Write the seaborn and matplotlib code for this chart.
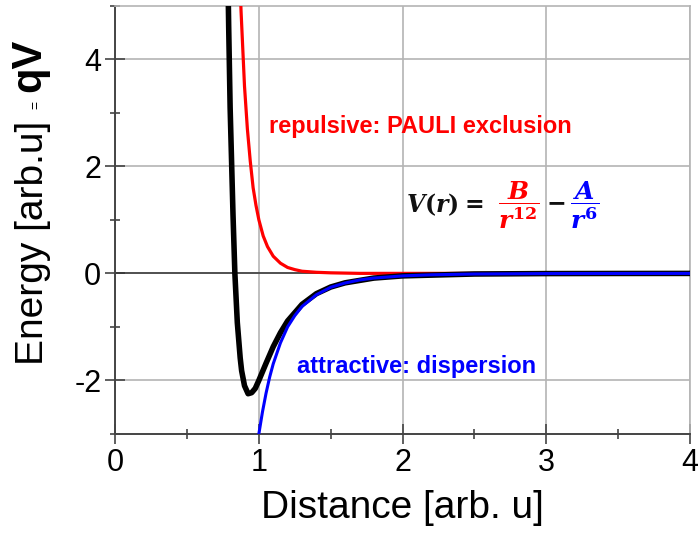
import numpy as np
import pandas as pd
import seaborn as sns
import matplotlib.pyplot as plt
from matplotlib.ticker import MultipleLocator

# values
r_rep = [0.86, 0.876, 0.90, 0.92, 0.94, 0.96, 0.98, 1.00, 1.03, 1.06, 1.10,
         1.15, 1.20, 1.25, 1.30, 1.40, 1.50, 1.70, 2.00, 2.50, 3.00, 4.00]
v_rep = [6.1, 4.9, 3.5, 2.7, 2.1, 1.6, 1.27, 1.0, 0.70, 0.50, 0.32,
         0.19, 0.11, 0.07, 0.04, 0.02, 0.01, 0.0, 0.0, 0.0, 0.0, 0.0]

r_att = [0.98, 1.00, 1.025, 1.05, 1.075, 1.10, 1.15, 1.20, 1.25, 1.30, 1.40,
         1.50, 1.60, 1.70, 1.80, 2.00, 2.20, 2.50, 3.00, 3.50, 4.00]
v_att = [-3.38, -3.0, -2.59, -2.24, -1.94, -1.69, -1.30, -1.00, -0.79, -0.62, -0.40,
         -0.26, -0.18, -0.124, -0.088, -0.047, -0.027, -0.012, -0.004, -0.002, -0.001]

r_tot = [0.78, 0.79, 0.80, 0.82, 0.833, 0.85, 0.87, 0.88, 0.90, 0.925, 0.95,
         0.975, 1.00, 1.05, 1.10, 1.15, 1.20, 1.30, 1.40, 1.50, 1.60, 1.80,
         2.00, 2.50, 3.00, 3.50, 4.00]
v_tot = [6.4, 4.6, 3.1, 1.1, 0.0, -0.92, -1.58, -1.82, -2.10, -2.25, -2.23,
         -2.15, -2.0, -1.68, -1.37, -1.11, -0.89, -0.58, -0.38, -0.255, -0.177, -0.088,
         -0.047, -0.012, -0.004, -0.002, -0.001]

x_ticks = [0, 1, 2, 3, 4]
y_ticks = [-2, 0, 2, 4]

sns.set_style("white")
plt.rcParams["font.family"] = ["Liberation Sans", "DejaVu Sans"]
plt.rcParams["axes.unicode_minus"] = False
plt.rcParams["mathtext.fontset"] = "custom"
plt.rcParams["mathtext.it"] = "DejaVu Serif:italic:bold"
plt.rcParams["mathtext.rm"] = "DejaVu Serif:bold"
plt.rcParams["mathtext.bf"] = "DejaVu Serif:bold"

fig, ax = plt.subplots(figsize=(6.98, 5.33), dpi=100)
fig.subplots_adjust(left=0.165, right=0.9885, top=0.989, bottom=0.186)

ax.axhline(0, color="#333333", lw=1.1, zorder=2)
sns.lineplot(x=r_rep, y=v_rep, ax=ax, color="#ff0000", lw=2.3, zorder=3)
sns.lineplot(x=r_tot, y=v_tot, ax=ax, color="black", lw=4.0, zorder=4)
sns.lineplot(x=r_att, y=v_att, ax=ax, color="#0000ff", lw=2.2, zorder=5)

ax.set_xlim(0, 4)
ax.set_ylim(-3, 5)
ax.set_xticks(x_ticks)
ax.set_yticks(y_ticks)
ax.xaxis.set_minor_locator(MultipleLocator(0.5))
ax.yaxis.set_minor_locator(MultipleLocator(1))
ax.grid(True, which="major", color="#b4b4b4", lw=1.2, zorder=0)

for side in ["left", "bottom"]:
    ax.spines[side].set_color("#444444")
    ax.spines[side].set_linewidth(1.4)
for side in ["top", "right"]:
    ax.spines[side].set_color("#b4b4b4")
    ax.spines[side].set_linewidth(1.2)

ax.tick_params(which="both", bottom=True, left=True, top=False, right=False)
ax.tick_params(which="major", direction="inout", length=14, width=1.2,
               color="#444444", labelsize=22, labelcolor="black", pad=3)
ax.tick_params(which="minor", direction="inout", length=7, width=1.2,
               color="#444444")

ax.set_xlabel("Distance [arb. u]", fontsize=28, labelpad=9, color="black")

# y label built from three pieces
fig.text(0.047, 0.544, "Energy [arb.u]", rotation=90, fontsize=28,
         ha="center", va="center", color="black")
fig.text(0.052, 0.803, "=", rotation=90, fontsize=10, ha="center",
         va="center", color="black")
fig.text(0.042, 0.878, "qV", rotation=90, fontsize=30, fontweight="bold",
         ha="center", va="center", color="black")

ax.text(1.073, 2.63, "repulsive: PAULI exclusion", color="#ff0000",
        fontsize=17, fontweight="bold", ha="left", va="baseline")
ax.text(1.266, -1.857, "attractive: dispersion", color="#0000ff",
        fontsize=17, fontweight="bold", ha="left", va="baseline")

ax.text(2.29, 1.28, r"$V(r)=$", color="#111111", fontsize=17,
        ha="center", va="center")
ax.text(2.806, 1.28, r"$\dfrac{B}{r^{12}}$", color="#ff0000", fontsize=18,
        ha="center", va="center")
ax.text(3.064, 1.32, r"$-$", color="#111111", fontsize=17,
        ha="center", va="center")
ax.text(3.266, 1.28, r"$\dfrac{A}{r^{6}}$", color="#0000ff", fontsize=18,
        ha="center", va="center")

plt.savefig("out.png", dpi=100)
